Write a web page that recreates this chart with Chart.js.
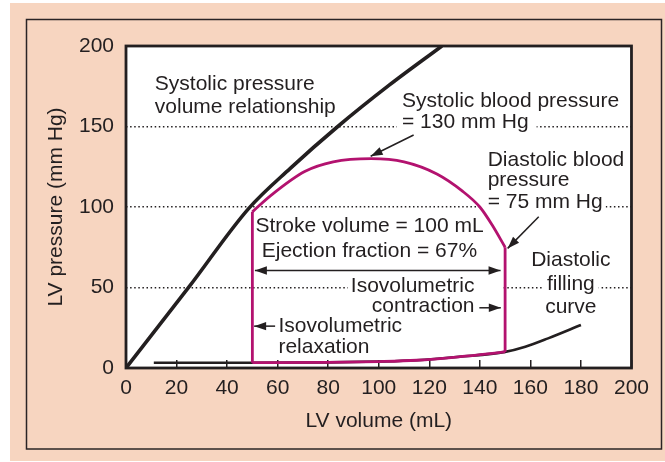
<!DOCTYPE html>
<html><head><meta charset="utf-8">
<script src="https://cdn.jsdelivr.net/npm/chart.js@4.4.0/dist/chart.umd.min.js"></script>
<style>html,body{margin:0;padding:0;background:#fff}canvas{display:block}</style>
</head><body>
<canvas id="c" width="665" height="462"></canvas>
<script>
// ---- data ----
const volumeTicks = [0, 20, 40, 60, 80, 100, 120, 140, 160, 180, 200];
const pressureTicks = [0, 50, 100, 150, 200];
// end-systolic pressure-volume relationship
const espvrVolume   = [0, 25, 48.5, 65, 83.8, 104, 125];
const espvrPressure = [0, 50.5, 99, 124, 150, 175.5, 200];
// diastolic filling curve
const fillingVolume   = [11, 50, 80, 100, 115, 132, 150, 158, 167, 180];
const fillingPressure = [3.3, 3.3, 3.5, 4, 4.8, 7, 10, 13.2, 18.4, 26.7];
// ejection phase of the loop
const ejectionVolume   = [50, 57.6, 70.7, 82, 97, 110, 123, 133, 140, 145, 150];
const ejectionPressure = [97, 107.5, 122, 128, 130, 128, 120.5, 110, 100, 88.5, 75];
const endSystolicVolume = 50;
const endDiastolicVolume = 150;

// ---- styles ----
const INK = '#231f20';
const LOOP = '#b3126f';
const FAMILY = '"Liberation Sans", Arial, Helvetica, sans-serif';
const FS = 21;

const pts = (xs, ys) => xs.map((x, i) => ({x, y: ys[i]}));
const fillingPts = pts(fillingVolume, fillingPressure);
const loopBottom = fillingPts.filter(p => p.x >= endSystolicVolume && p.x <= endDiastolicVolume);
const pAt = (v) => fillingPts.find(p => p.x === v).y;

// annotation layout (positions in data units)
const notes = [
  {lines: ['Systolic pressure', 'volume relationship'], x: 11.4, y: 172.7, gap: 23.3, align: 'left'},
  {lines: ['Systolic blood pressure'], x: 109.2, y: 162.3, align: 'left'},
  {lines: ['= 130 mm Hg'], x: 109.2, y: 148.9, align: 'left', box: [5, 8]},
  {lines: ['Diastolic blood', 'pressure'], x: 143.1, y: 125.5, gap: 20, align: 'left'},
  {lines: ['= 75 mm Hg'], x: 143.1, y: 99.6, align: 'left', box: [8, 3]},
  {lines: ['Stroke volume = 100 mL'], x: 51.2, y: 84.3, align: 'left'},
  {lines: ['Ejection fraction = 67%'], x: 53.7, y: 68.8, align: 'left'},
  {lines: ['Isovolumetric'], x: 137.9, y: 47.4, align: 'right', box: [3, 29]},
  {lines: ['contraction'], x: 137.9, y: 35, align: 'right'},
  {lines: ['Isovolumetric', 'relaxation'], x: 60.3, y: 22.5, gap: 21.6, align: 'left'},
  {lines: ['Diastolic'], x: 176, y: 63.4, align: 'center'},
  {lines: ['filling'], x: 176, y: 48.4, align: 'center', box: [4, 4]},
  {lines: ['curve'], x: 176, y: 34.3, align: 'center'}
];
const arrows = [
  {from: [113.8, 144.7], to: [96.8, 131.5]},
  {from: [163.3, 94], to: [151, 74.3]},
  {from: [51, 60.6], to: [148.2, 60.6], both: true},
  {from: [139.8, 37.4], to: [148.3, 37.4]},
  {from: [59, 26], to: [50.7, 26]}
];

function head(ctx, x1, y1, x2, y2) {
  const a = Math.atan2(y2 - y1, x2 - x1), L = 12, W = 4.2;
  ctx.beginPath();
  ctx.moveTo(x2, y2);
  ctx.lineTo(x2 - L * Math.cos(a) + W * Math.sin(a), y2 - L * Math.sin(a) - W * Math.cos(a));
  ctx.lineTo(x2 - L * Math.cos(a) - W * Math.sin(a), y2 - L * Math.sin(a) + W * Math.cos(a));
  ctx.closePath();
  ctx.fill();
}

const decor = {
  id: 'decor',
  beforeDraw(chart) {
    const {ctx, chartArea: a} = chart;
    ctx.save();
    ctx.fillStyle = '#fff'; ctx.fillRect(0, 0, 665, 462);
    ctx.fillStyle = '#f7d5c0'; ctx.fillRect(10, 3, 655, 458);
    ctx.strokeStyle = '#2a2425'; ctx.lineWidth = 1.5;
    ctx.strokeRect(26.5, 19.5, 635, 429.5);
    ctx.fillStyle = '#fff'; ctx.fillRect(a.left, a.top, a.right - a.left, a.bottom - a.top);
    ctx.restore();
  },
  beforeDatasetsDraw(chart) {
    const {ctx, scales: {x, y}} = chart;
    ctx.save();
    ctx.font = FS + 'px ' + FAMILY;
    ctx.fillStyle = '#fff';
    notes.forEach(n => {
      if (!n.box) return;
      const px = x.getPixelForValue(n.x), py = y.getPixelForValue(n.y);
      const w = ctx.measureText(n.lines[0]).width;
      let left = px;
      if (n.align === 'right') left = px - w;
      if (n.align === 'center') left = px - w / 2;
      ctx.fillRect(left - n.box[0], py - 17, w + n.box[0] + n.box[1], 23);
    });
    ctx.restore();
  },
  afterDatasetsDraw(chart) {
    const {ctx, chartArea: a, scales: {x, y}} = chart;
    ctx.save();
    ctx.font = FS + 'px ' + FAMILY;
    ctx.fillStyle = INK;
    ctx.textBaseline = 'alphabetic';
    notes.forEach(n => {
      ctx.textAlign = n.align;
      const px = x.getPixelForValue(n.x), py = y.getPixelForValue(n.y);
      n.lines.forEach((t, i) => ctx.fillText(t, px, py + i * (n.gap || 0)));
    });
    ctx.strokeStyle = INK; ctx.lineWidth = 1.5;
    arrows.forEach(ar => {
      const x1 = x.getPixelForValue(ar.from[0]), y1 = y.getPixelForValue(ar.from[1]);
      const x2 = x.getPixelForValue(ar.to[0]), y2 = y.getPixelForValue(ar.to[1]);
      ctx.beginPath(); ctx.moveTo(x1, y1); ctx.lineTo(x2, y2); ctx.stroke();
      head(ctx, x1, y1, x2, y2);
      if (ar.both) head(ctx, x2, y2, x1, y1);
    });
    ctx.lineWidth = 2.8; ctx.strokeStyle = INK;
    ctx.strokeRect(a.left, a.top, a.right - a.left, a.bottom - a.top);
    ctx.restore();
  }
};

const line = (data, color, width, extra) => Object.assign({
  data, borderColor: color, borderWidth: width, showLine: true, pointRadius: 0,
  fill: false, cubicInterpolationMode: 'monotone', borderCapStyle: 'butt', borderJoinStyle: 'miter'
}, extra || {});

new Chart(document.getElementById('c'), {
  type: 'scatter',
  data: {
    datasets: [
      line(pts(ejectionVolume, ejectionPressure), LOOP, 2.8),
      line([{x: endSystolicVolume, y: pAt(endSystolicVolume)}, {x: endSystolicVolume, y: ejectionPressure[0]}], LOOP, 2.8, {cubicInterpolationMode: 'default', tension: 0}),
      line([{x: endDiastolicVolume, y: pAt(endDiastolicVolume)}, {x: endDiastolicVolume, y: ejectionPressure[ejectionPressure.length - 1]}], LOOP, 2.8, {cubicInterpolationMode: 'default', tension: 0}),
      line(loopBottom, LOOP, 2.8),
      line(pts(espvrVolume, espvrPressure), INK, 3.6),
      line(fillingPts, INK, 2.6)
    ]
  },
  options: {
    responsive: false, animation: false, devicePixelRatio: 1,
    layout: {padding: {left: 0, top: 46, right: 28, bottom: 0}},
    plugins: {legend: {display: false}, tooltip: {enabled: false}},
    scales: {
      x: {
        type: 'linear', position: 'bottom', min: 0, max: 200,
        afterBuildTicks: s => { s.ticks = volumeTicks.map(v => ({value: v})); },
        ticks: {color: INK, font: {family: FAMILY, size: FS}, padding: 16, maxRotation: 0, autoSkip: false},
        grid: {display: true, drawOnChartArea: false, drawTicks: true, tickLength: -8, color: INK, lineWidth: 1.5},
        border: {display: false},
        title: {display: true, text: 'LV volume (mL)', color: INK, font: {family: FAMILY, size: FS}, padding: {top: 0, bottom: 28}},
        afterFit: s => { s.height = 94; }
      },
      y: {
        type: 'linear', position: 'left', min: 0, max: 200,
        afterBuildTicks: s => { s.ticks = pressureTicks.map(v => ({value: v})); },
        ticks: {color: INK, font: {family: FAMILY, size: FS}, padding: 12},
        grid: {color: INK, lineWidth: 1.5, drawTicks: false},
        border: {display: false, dash: [1.5, 2.6]},
        title: {display: true, text: 'LV pressure (mm Hg)', color: INK, font: {family: FAMILY, size: FS}, padding: {top: 44, bottom: 0}},
        afterFit: s => { s.width = 126; }
      }
    }
  },
  plugins: [decor]
});
</script>
</body></html>
